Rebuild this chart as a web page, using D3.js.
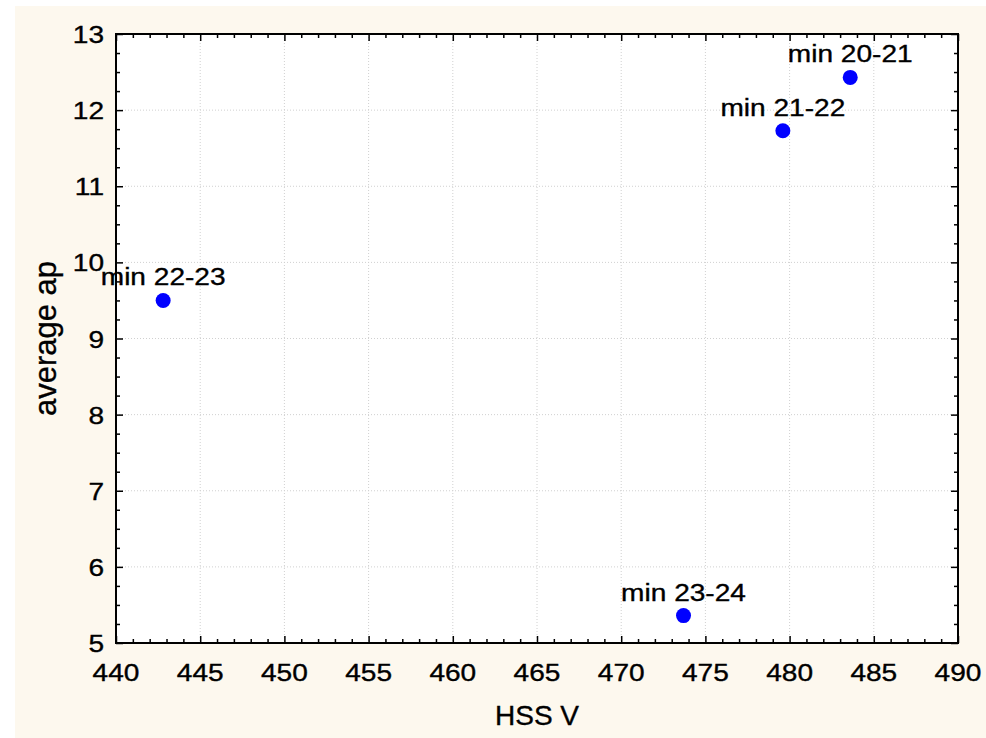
<!DOCTYPE html>
<html>
<head>
<meta charset="utf-8">
<script src="https://cdn.jsdelivr.net/npm/d3@7"></script>
<style>
  html, body { margin: 0; padding: 0; background: #fff; }
  text { font-family: "Liberation Sans", Arial, Helvetica, sans-serif; fill: #000; stroke: #000; stroke-width: 0.35; }
</style>
</head>
<body>
<div id="chart"></div>
<script>
const labels = ['min 20-21', 'min 21-22', 'min 22-23', 'min 23-24'];
const hssV = [483.6, 479.6, 442.8, 473.7];
const averageAp = [12.43, 11.73, 9.5, 5.36];
const xTicks = [440, 445, 450, 455, 460, 465, 470, 475, 480, 485, 490];
const yTicks = [5, 6, 7, 8, 9, 10, 11, 12, 13];

const width = 986;
const height = 738;
const margin = { top: 34, right: 28, bottom: 95, left: 116 };
const stretch = 1.17; // tick and point labels are wider than plain Arial

const svg = d3.select('#chart')
  .append('svg')
  .attr('width', width)
  .attr('height', height);

// cream page background
svg.append('rect')
  .attr('x', 15).attr('y', 6)
  .attr('width', width - 15).attr('height', height - 6)
  .attr('fill', '#fdf8ee');

const x = d3.scaleLinear().domain([440, 490]).range([margin.left, width - margin.right]);
const y = d3.scaleLinear().domain([5, 13]).range([height - margin.bottom, margin.top]);

const [x0, x1] = x.range();
const [y0, y1] = y.range();

svg.append('rect')
  .attr('x', x0).attr('y', y1)
  .attr('width', x1 - x0).attr('height', y0 - y1)
  .attr('fill', '#fff');

// dotted grid
const grid = svg.append('g');
grid.selectAll('.gx')
  .data(xTicks.slice(1, -1))
  .join('line')
  .attr('x1', (d) => x(d)).attr('x2', (d) => x(d))
  .attr('y1', y1).attr('y2', y0)
  .attr('stroke', '#d0d0d0').attr('stroke-width', 1)
  .attr('stroke-dasharray', '1,2');
grid.selectAll('.gy')
  .data(yTicks.slice(1, -1))
  .join('line')
  .attr('x1', x0).attr('x2', x1)
  .attr('y1', (d) => y(d)).attr('y2', (d) => y(d))
  .attr('stroke', '#d0d0d0').attr('stroke-width', 1)
  .attr('stroke-dasharray', '1,2');

// inward ticks on all four sides
const minorX = d3.range(440, 491, 1).filter((v) => v % 5 !== 0);
const minorY = d3.range(5, 13.01, 0.25).filter((v) => Math.abs(v - Math.round(v)) > 0.01);

function addAxis(axis, pos, ticks, len) {
  const g = svg.append('g').attr('transform', pos);
  g.call(axis.tickValues(ticks).tickSize(-len).tickFormat(''));
  g.select('.domain').remove();
  g.selectAll('line').attr('stroke', '#000').attr('stroke-width', 1.5);
}
addAxis(d3.axisBottom(x), `translate(0,${y0})`, xTicks, 7);
addAxis(d3.axisBottom(x), `translate(0,${y0})`, minorX, 4);
addAxis(d3.axisTop(x), `translate(0,${y1})`, xTicks, 7);
addAxis(d3.axisTop(x), `translate(0,${y1})`, minorX, 4);
addAxis(d3.axisLeft(y), `translate(${x0},0)`, yTicks, 7);
addAxis(d3.axisLeft(y), `translate(${x0},0)`, minorY, 4);
addAxis(d3.axisRight(y), `translate(${x1},0)`, yTicks, 7);
addAxis(d3.axisRight(y), `translate(${x1},0)`, minorY, 4);

svg.append('rect')
  .attr('x', x0).attr('y', y1)
  .attr('width', x1 - x0).attr('height', y0 - y1)
  .attr('fill', 'none').attr('stroke', '#000').attr('stroke-width', 2);

// tick labels
svg.append('g').selectAll('text')
  .data(xTicks)
  .join('text')
  .attr('transform', (d) => `translate(${x(d)},${y0 + 38}) scale(${stretch},1)`)
  .attr('text-anchor', 'middle')
  .attr('font-size', 24)
  .text((d) => d);

svg.append('g').selectAll('text')
  .data(yTicks)
  .join('text')
  .attr('transform', (d) => `translate(${x0 - 12},${y(d) + 9}) scale(${stretch},1)`)
  .attr('text-anchor', 'end')
  .attr('font-size', 24)
  .text((d) => d);

// axis titles
svg.append('text')
  .attr('x', (x0 + x1) / 2)
  .attr('y', 725)
  .attr('text-anchor', 'middle')
  .attr('font-size', 28)
  .text('HSS V');

svg.append('text')
  .attr('transform', `translate(56,${(y0 + y1) / 2}) rotate(-90)`)
  .attr('text-anchor', 'middle')
  .attr('font-size', 31)
  .text('average ap');

// points
const pts = labels.map((l, i) => ({ label: l, x: hssV[i], y: averageAp[i] }));

svg.append('g').selectAll('circle')
  .data(pts)
  .join('circle')
  .attr('cx', (d) => x(d.x))
  .attr('cy', (d) => y(d.y))
  .attr('r', 7.5)
  .attr('fill', '#0000ff');

svg.append('g').selectAll('text')
  .data(pts)
  .join('text')
  .attr('transform', (d) => `translate(${x(d.x)},${y(d.y) - 15}) scale(${stretch},1)`)
  .attr('text-anchor', 'middle')
  .attr('font-size', 24)
  .text((d) => d.label);
</script>
</body>
</html>
